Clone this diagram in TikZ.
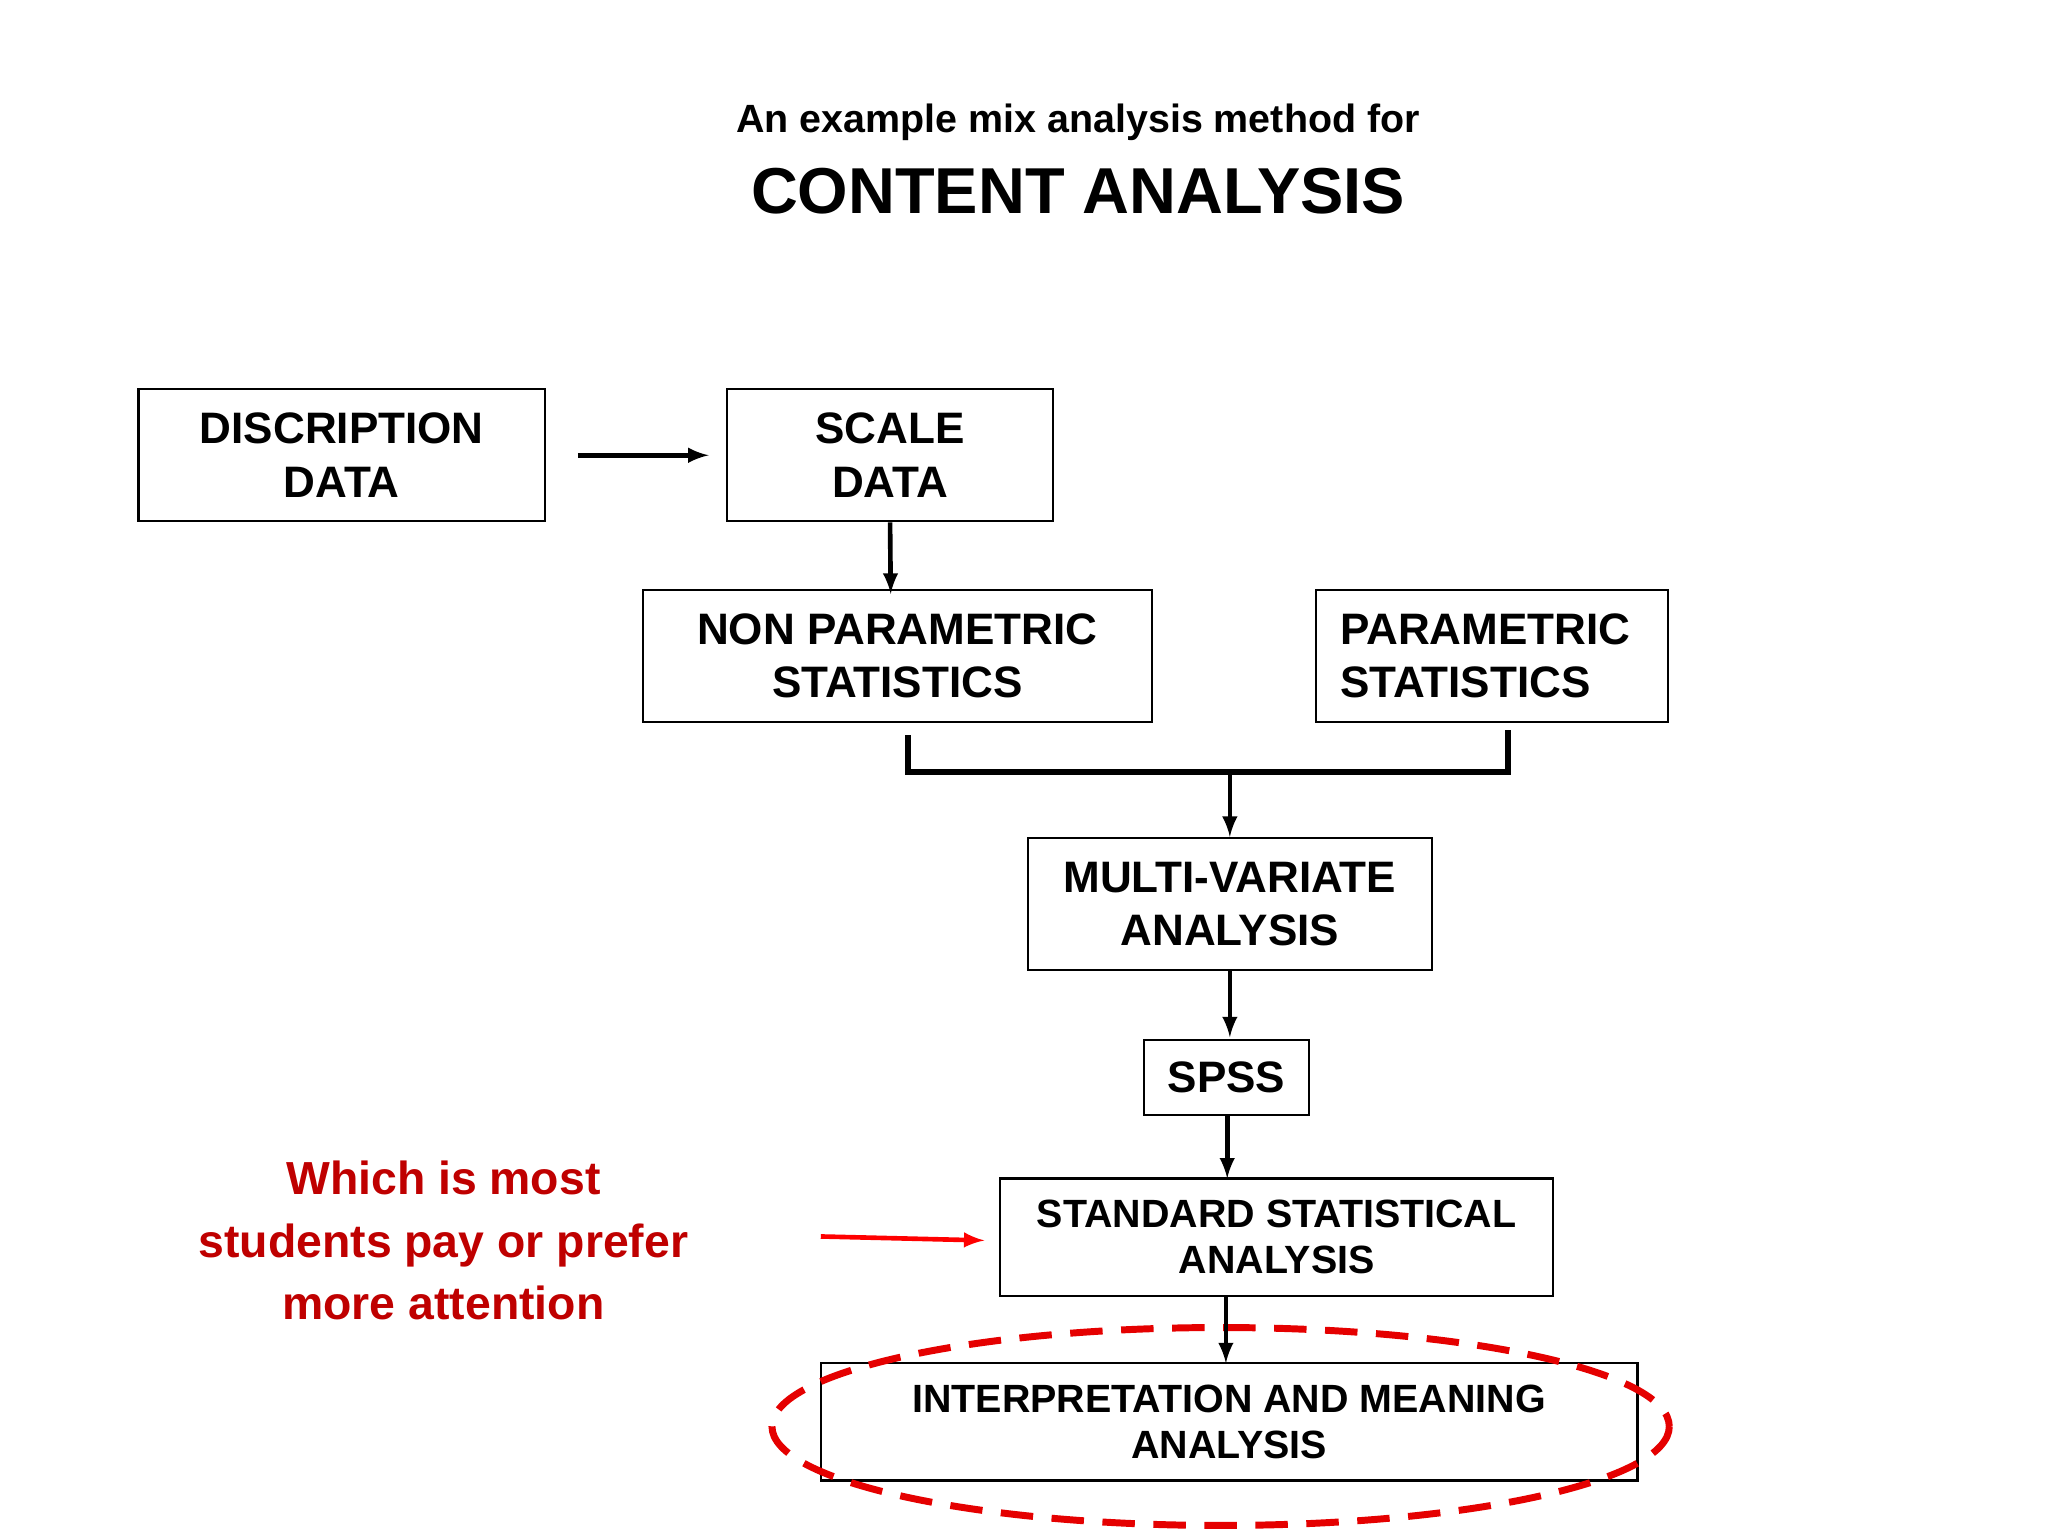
\documentclass[tikz,border=0pt]{standalone}
\usepackage{fontspec}
\setmainfont{Liberation Sans}
\begin{document}
\begin{tikzpicture}[x=0.02cm,y=-0.02cm,
 box/.style={draw,line width=1pt,inner sep=0pt,align=center,font=\fontsize{19}{23}\selectfont\bfseries},
 arr/.style={-latex,line width=2pt}]
\useasboundingbox (0,0) rectangle (1552,1164);
\node[font=\fontsize{17}{20}\selectfont\bfseries] (t1) at (817,93) {An example mix analysis method for};
\node[font=\fontsize{28}{32}\selectfont\bfseries] (t2) at (817,145) {CONTENT ANALYSIS};
\node[box,minimum width=308\pgflinewidth*0+6.16cm,minimum height=2cm] (d) at (259,345) {DISCRIPTION\\DATA};
\node[box,minimum width=4.94cm,minimum height=2cm] (s) at (674.5,345) {SCALE\\DATA};
\node[box,minimum width=7.72cm,minimum height=2cm] (np) at (680,497) {NON PARAMETRIC\\STATISTICS};
\node[box,minimum width=5.34cm,minimum height=2cm,align=left] (p) at (1130.5,497) {PARAMETRIC\\STATISTICS\hspace*{1.2em}};
\node[box,minimum width=6.12cm,minimum height=2cm] (m) at (932,685) {MULTI-VARIATE\\ANALYSIS};
\node[box,minimum width=2.5cm,minimum height=1.14cm] (sp) at (929.5,816.5) {SPSS};
\node[box,minimum width=8.38cm,minimum height=1.78cm,font=\fontsize{17}{20}\selectfont\bfseries] (st) at (967.5,937.5) {STANDARD STATISTICAL\\ANALYSIS};
\node[box,minimum width=12.38cm,minimum height=1.78cm,font=\fontsize{17}{20}\selectfont\bfseries] (in) at (931.5,1077.5) {INTERPRETATION AND MEANING\\ANALYSIS};
\draw[red!90!black,dashed,line width=3pt,dash pattern=on 14pt off 8pt] (925,1081) ellipse [x radius=340,y radius=75];
\node[text=red!75!black,align=center,font=\fontsize{20}{27}\selectfont\bfseries] (w) at (336,940) {Which is most\\students pay or prefer\\more attention};
\coordinate (a1) at (438,345);
\draw[arr] (a1) -- (537,345);
\draw[arr] (s.south) -- (675,450);
\coordinate (b1) at (688,557); \coordinate (b2) at (688,585);
\coordinate (b3) at (1143,585); \coordinate (b4) at (1143,553);
\draw[line width=2.5pt] (b1) -- (b2) -- (b3) -- (b4);
\draw[arr] (932,585) -- (m.north);
\draw[arr] (m.south) -- (932,786);
\draw[arr] (930,845) -- (930,893);
\draw[arr] (929,982) -- (929,1033);
\coordinate (r1) at (622,937);
\draw[-latex,red,line width=2pt] (r1) -- (746,940);
\end{tikzpicture}
\end{document}
